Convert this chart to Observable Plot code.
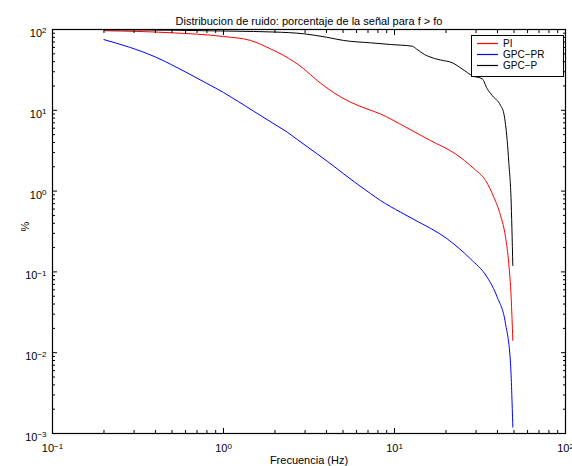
<!DOCTYPE html>
<html><head><meta charset="utf-8">
<script src="https://cdn.jsdelivr.net/npm/d3@7"></script>
<script src="https://cdn.jsdelivr.net/npm/@observablehq/plot@0.6"></script>
<style>
body{margin:0;background:#fff}
svg{font-family:"Liberation Sans",Arial,Helvetica,sans-serif}
</style>
</head><body><div id="chart"></div>
<script>
const titleText = "Distribucion de ruido: porcentaje de la señal para f > fo";
const xLabelText = "Frecuencia (Hz)";
const yLabelText = "%";
const seriesNames = ["PI", "GPC\u2212PR", "GPC\u2212P"];
const seriesColors = ["#ff0000", "#0000ff", "#000000"];

const freqPI = [0.2,0.5,1,1.44,1.88,2.25,2.95,3.53,4.4,5.53,7,8.28,11.6,16.2,22.7,29.1,34.1,38.1,41.7,44.6,46.6,48.1,49.2];
const valPI  = [96.6,91,81.9,73.1,57.7,47.7,32.6,23.4,16.6,12.6,10.3,9.0,6.21,4.23,2.89,1.90,1.35,0.84,0.499,0.269,0.126,0.0486,0.0142];

const freqGPCPR = [0.2,0.4,0.6,0.8,1,1.5,2,2.36,2.7,4.62,5.05,7.24,8.28,10.8,13,20.3,27.8,34.8,39.9,44.6,47.7,49.2];
const valGPCPR  = [75,45.7,29.8,21.5,16.6,9.75,6.67,5.36,4.35,1.89,1.63,0.933,0.765,0.551,0.445,0.257,0.145,0.086,0.0486,0.0228,0.0073,0.0012];

const freqGPCP = [0.2,0.5,1,1.5,1.97,2.95,4,5.05,7.24,9.48,12.7,13.45,14.98,15.9,17.1,18.6,21.8,24.9,28.7,32.6,34.8,37.3,41.7,43.6,44.6,45.6,46.6,48,49.2];
const valGPCP  = [99,98,95.8,94.5,93.1,88.5,80.3,73.1,68.4,65.2,62.1,57.4,49.0,46.3,43.8,41.9,38.7,32.4,26.6,24.5,18.6,15.2,11.5,9.12,6.67,4.23,2.26,0.834,0.12];

const xMajorTicks = [0.1, 1, 10, 100];
const xTickExponents = ["\u22121", "0", "1", "2"];
const yMajorTicks = [0.001, 0.01, 0.1, 1, 10, 100];
const yTickExponents = ["\u22123", "\u22122", "\u22121", "0", "1", "2"];

function minorTicks(majors) {
  const out = [];
  for (let i = 0; i < majors.length - 1; i++)
    for (let m = 2; m <= 9; m++) out.push(majors[i] * m);
  return out;
}
const xMinor = minorTicks(xMajorTicks);
const yMinor = minorTicks(yMajorTicks);

const rows = [];
[[freqPI, valPI], [freqGPCPR, valGPCPR], [freqGPCP, valGPCP]].forEach(([f, v], k) => {
  f.forEach((fi, i) => rows.push({series: seriesNames[k], f: fi, v: v[i]}));
});

const fontFam = '"Liberation Sans",Arial,Helvetica,sans-serif';
const plot = Plot.plot({
  width: 572, height: 466,
  marginLeft: 52, marginRight: 7, marginTop: 29, marginBottom: 33,
  style: {fontFamily: fontFam, fontSize: "11px", background: "white", color: "black"},
  x: {type: "log", domain: [0.1, 100]},
  y: {type: "log", domain: [0.001, 100]},
  color: {domain: seriesNames, range: seriesColors.slice()},
  marks: [
    Plot.line(rows, {x: "f", y: "v", z: "series", stroke: "series", strokeWidth: 1, curve: "monotone-x"}),
    Plot.frame({stroke: "black", strokeWidth: 1.2}),
    Plot.axisX(xMajorTicks, {anchor: "bottom", tickSize: -5, fill: "none", label: null}),
    Plot.axisX(xMinor, {anchor: "bottom", tickSize: -3, fill: "none", label: null}),
    Plot.axisX(xMajorTicks, {anchor: "top", tickSize: -5, fill: "none", label: null}),
    Plot.axisX(xMinor, {anchor: "top", tickSize: -3, fill: "none", label: null}),
    Plot.axisY(yMajorTicks, {anchor: "left", tickSize: -5, fill: "none", label: null}),
    Plot.axisY(yMinor, {anchor: "left", tickSize: -3, fill: "none", label: null}),
    Plot.axisY(yMajorTicks, {anchor: "right", tickSize: -5, fill: "none", label: null}),
    Plot.axisY(yMinor, {anchor: "right", tickSize: -3, fill: "none", label: null}),
    Plot.axisX(xMajorTicks, {anchor: "bottom", tickSize: 0, tickPadding: 11, label: null, fontSize: 11,
      tickFormat: d => "10^" + xTickExponents[xMajorTicks.indexOf(d)]}),
    Plot.axisY(yMajorTicks, {anchor: "left", tickSize: 0, tickPadding: 6, label: null, fontSize: 11, dy: 4,
      tickFormat: d => "10^" + yTickExponents[yMajorTicks.indexOf(d)]}),
    Plot.text([titleText], {frameAnchor: "top", dy: -12, fontSize: 11, fill: "black"}),
    Plot.text([xLabelText], {frameAnchor: "bottom", dy: 30, fontSize: 11, fill: "black"}),
    Plot.text([yLabelText], {frameAnchor: "left", dx: -27, rotate: -90, fontSize: 11, fill: "black"})
  ]
});

// turn "10^e" labels into base + raised exponent
d3.select(plot).selectAll("text").each(function() {
  const t = this.textContent;
  const m = /^10\^(.+)$/.exec(t);
  if (!m) return;
  const sel = d3.select(this);
  sel.text(null);
  sel.append("tspan").text("10");
  sel.append("tspan").attr("dy", "-0.45em").attr("font-size", "8px").text(m[1]);
});

const svg = d3.select(plot);
const lg = svg.append("g").attr("font-size", 10).attr("font-family", fontFam).attr("text-anchor", "start");
lg.append("rect").attr("x", 471.5).attr("y", 35.5).attr("width", 92).attr("height", 41)
  .style("fill", "white").style("stroke", "black").style("stroke-width", "1");
seriesNames.forEach((n, i) => {
  const y = 43.5 + i * 11;
  lg.append("path").attr("d", `M477,${y}H498`)
    .attr("stroke", seriesColors[i]).style("stroke", seriesColors[i]).style("stroke-width", "1.2").style("fill", "none");
  lg.append("text").attr("x", 503).attr("y", y).attr("dy", "0.36em")
    .style("fill", "black").attr("text-anchor", "start").text(n);
});
document.getElementById("chart").appendChild(plot);
</script>
</body></html>
